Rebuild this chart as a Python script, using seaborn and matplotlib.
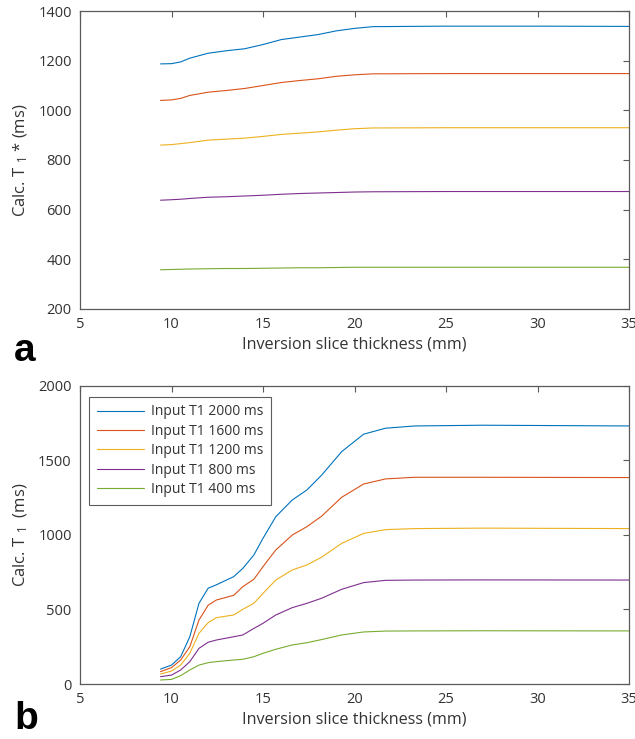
import numpy as np
import pandas as pd
import matplotlib
matplotlib.use("Agg")
import matplotlib.pyplot as plt
import seaborn as sns

# ---------------- data ----------------
series = ["Input T1 2000 ms", "Input T1 1600 ms", "Input T1 1200 ms",
          "Input T1 800 ms", "Input T1 400 ms"]
colors = ["#0072BD", "#D95319", "#EDB120", "#7E2F8E", "#77AC30"]

# panel a (calculated T1*)
xa = [9.4, 10.0, 10.5, 11.0, 12.0, 13.0, 14.0, 15.0, 16.0, 17.0, 18.0, 19.0,
      20.0, 21.0, 25.0, 30.0, 35.0]
a_2000 = [1187, 1188, 1195, 1210, 1230, 1240, 1248, 1265, 1285, 1295, 1305,
          1320, 1330, 1337, 1339, 1339, 1338]
a_1600 = [1040, 1042, 1048, 1060, 1073, 1080, 1088, 1100, 1112, 1120, 1127,
          1137, 1143, 1147, 1148, 1148, 1148]
a_1200 = [860, 862, 866, 870, 880, 884, 888, 895, 903, 908, 913, 920, 926,
          929, 930, 930, 930]
a_800 = [638, 640, 642, 645, 650, 652, 655, 658, 662, 665, 667, 669, 671,
         672, 673, 673, 673]
a_400 = [358, 359, 360, 361, 362, 363, 363, 364, 365, 366, 366, 367, 368,
         368, 368, 368, 368]

# panel b (calculated T1)
xb = [9.4, 10.0, 10.5, 11.0, 11.5, 12.0, 12.45, 13.4, 13.9, 14.5, 15.0, 15.7,
      16.6, 17.4, 18.2, 19.3, 20.5, 21.7, 23.3, 27.0, 35.0]
b_2000 = [100, 127, 183, 317, 541, 642, 665, 720, 776, 865, 977, 1122, 1234,
          1301, 1400, 1558, 1675, 1715, 1730, 1735, 1730]
b_1600 = [83, 110, 161, 250, 429, 528, 563, 595, 653, 702, 787, 899, 999,
          1055, 1125, 1252, 1341, 1375, 1386, 1386, 1384]
b_1200 = [67, 87, 127, 206, 340, 411, 445, 463, 501, 541, 608, 697, 765, 798,
          850, 943, 1010, 1035, 1042, 1045, 1042]
b_800 = [49, 60, 94, 150, 239, 280, 295, 317, 329, 373, 407, 463, 512, 541,
         575, 635, 680, 695, 697, 698, 697]
b_400 = [27, 31, 56, 94, 127, 143, 150, 161, 166, 183, 206, 233, 262, 277,
         298, 329, 349, 355, 356, 357, 356]

xticks = [5, 10, 15, 20, 25, 30, 35]
yticks_a = [200, 400, 600, 800, 1000, 1200, 1400]
yticks_b = [0, 500, 1000, 1500, 2000]


def long_df(x, ys):
    rows = []
    for name, y in zip(series, ys):
        for xi, yi in zip(x, y):
            rows.append((name, xi, yi))
    return pd.DataFrame(rows, columns=["series", "x", "y"])


dfa = long_df(xa, [a_2000, a_1600, a_1200, a_800, a_400])
dfb = long_df(xb, [b_2000, b_1600, b_1200, b_800, b_400])

# ---------------- style ----------------
sns.set_theme(style="white")
plt.rcParams["font.family"] = ["Open Sans", "DejaVu Sans"]
plt.rcParams["mathtext.fontset"] = "custom"
plt.rcParams["mathtext.rm"] = "Open Sans"
plt.rcParams["mathtext.it"] = "Open Sans"

fig = plt.figure(figsize=(6.35, 7.39), dpi=100)
ax_a = fig.add_axes([0.126, 0.5819, 0.8646, 0.4032])
ax_b = fig.add_axes([0.126, 0.0744, 0.8646, 0.4037])

axcol = "#5a5a5a"
txtcol = "#333333"

for ax, df, yt, ylim in [(ax_a, dfa, yticks_a, (200, 1400)),
                         (ax_b, dfb, yticks_b, (0, 2000))]:
    sns.lineplot(data=df, x="x", y="y", hue="series", palette=colors,
                 hue_order=series, ax=ax, linewidth=0.8, legend=(ax is ax_b),
                 sort=False)
    ax.set_xlim(5, 35)
    ax.set_ylim(*ylim)
    ax.set_xticks(xticks)
    ax.set_yticks(yt)
    ax.tick_params(direction="in", length=4, width=0.8, color=axcol,
                   labelsize=10.5, labelcolor=txtcol, top=True, right=True,
                   pad=6)
    for s in ax.spines.values():
        s.set_color(axcol)
        s.set_linewidth(0.9)
    ax.set_xlabel("Inversion slice thickness (mm)", fontsize=11.6,
                  color=txtcol, labelpad=3)

ax_a.set_ylabel(r"Calc. T $_{1}$ * (ms)", fontsize=12, color=txtcol,
                labelpad=6)
ax_b.set_ylabel(r"Calc. T $_{1}$  (ms)", fontsize=12, color=txtcol,
                labelpad=6)

leg = ax_b.legend(loc="upper left", bbox_to_anchor=(0.017, 0.963),
                  fontsize=10, frameon=True, fancybox=False,
                  edgecolor="#333333", handlelength=3.4, handletextpad=0.5,
                  borderpad=0.55, labelspacing=0.32, borderaxespad=0)
leg.get_frame().set_linewidth(0.8)
for t in leg.get_texts():
    t.set_color(txtcol)

fig.text(0.022, 0.512, "a", fontsize=28, fontweight="bold",
         family=["Liberation Sans", "DejaVu Sans"], color="black")
fig.text(0.022, 0.013, "b", fontsize=28, fontweight="bold",
         family=["Liberation Sans", "DejaVu Sans"], color="black")

fig.savefig("out.png", dpi=100, facecolor="white")
